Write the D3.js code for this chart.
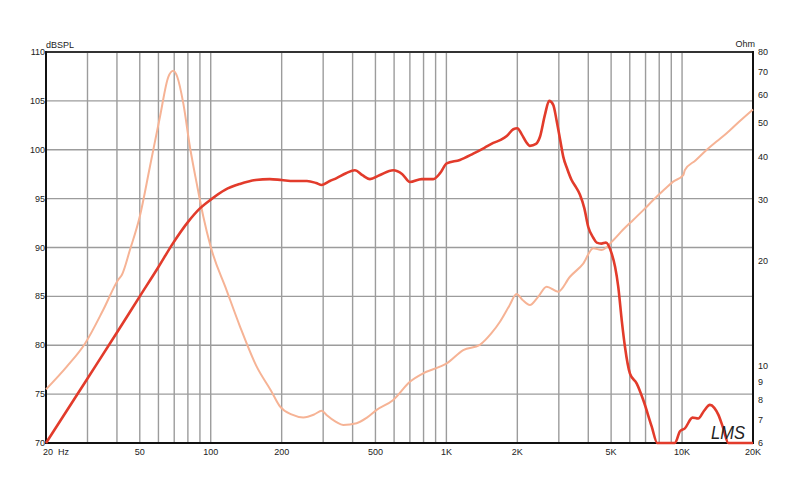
<!DOCTYPE html>
<html><head><meta charset="utf-8">
<script src="https://cdn.jsdelivr.net/npm/d3@7"></script>
<style>body{margin:0;background:#fff}svg{display:block}text{font-family:"Liberation Sans",Arial,sans-serif}</style>
</head><body><svg id="c" width="800" height="484"></svg>
<script>
// SPL response (Hz, dBSPL)
const splFreq = [20,30,40,50,60,69,80,90,100,115,133,155,178,200,225,256,280,296,320,342,375,409,440,474,520,595,650,700,785,880,940,1003,1141,1300,1450,1581,1700,1804,1923,2000,2085,2180,2261,2400,2493,2620,2730,2840,2935,3040,3132,3260,3398,3540,3688,3850,4000,4200,4344,4550,4755,5024,5200,5360,5550,5724,6011,6416,6845,7430,7850,8500,9330,9800,10280,11080,11710,12400,13130,13700,14250,14960,15720,17000,20000];
const splDb   = [70,76.6,81.3,85,88.0,90.4,92.6,94.0,94.9,95.9,96.5,96.9,97.0,96.9,96.8,96.8,96.6,96.4,96.8,97.1,97.6,97.9,97.4,97.0,97.4,97.9,97.5,96.7,97.0,97.0,97.6,98.6,98.95,99.6,100.2,100.7,101.0,101.4,102.1,102.2,101.6,100.8,100.4,100.6,101.3,103.6,105.0,104.6,103.0,101.0,99.3,98.0,96.9,96.2,95.4,94.0,92.1,91.0,90.5,90.4,90.5,89.4,88.0,86.0,82.5,79.85,77.1,76.1,74.4,71.7,70,70,70,71.2,71.5,72.6,72.5,73.3,73.9,73.6,72.9,71.5,70,70,70];
// Impedance (Hz, Ohm)
const impFreq = [20,24.5,29.3,35,40.5,42,45.4,50,55.2,60.9,66.1,69.4,72.1,76.5,81.6,87.2,93,100,116.8,133,156.7,180,197,220,247,275,296,310,340,365,416,460,506,595,700,797,939,1003,1179,1387,1550,1688,1850,1985,2100,2261,2450,2663,2980,3344,3808,4197,4556,5105,5600,6203,6900,7546,8300,9172,10120,10280,11400,12700,14000,15460,17500,20000];
const impOhm  = [8.56,9.95,11.6,14.5,17.7,18.3,21.55,26.9,37.4,52.1,67.9,70.7,67.9,56.9,42.7,33.5,26.9,22.0,16.5,13.0,9.95,8.5,7.63,7.25,7.11,7.25,7.43,7.22,6.9,6.76,6.84,7.1,7.47,7.98,9.0,9.52,9.95,10.17,11.1,11.5,12.4,13.4,14.9,16.1,15.5,14.97,15.8,16.9,16.35,18.05,19.7,21.8,21.55,23.0,24.6,26.3,28.2,30.0,31.9,33.9,35.4,36.6,39.0,41.8,44.2,46.7,50.5,54.7];
const xTicks = [20,50,100,200,500,1000,2000,5000,10000,20000];
const xTickLabels = ["20  Hz","50","100","200","500","1K","2K","5K","10K","20K"];
const xGrid = [30,40,50,60,70,80,90,100,200,300,400,500,600,700,800,900,1000,2000,3000,4000,5000,6000,7000,8000,9000,10000];
const yTicks = [70,75,80,85,90,95,100,105,110];
const ohmTicks = [6,7,8,9,10,20,30,40,50,60,70,80];

const svg = d3.select("#c");
const L=46,R=753,T=52,B=443;
const x = d3.scaleLog().domain([20,20000]).range([L,R]);
const y = d3.scaleLinear().domain([70,110]).range([B,T]);
const yz = d3.scaleLog().domain([6,80]).range([B,T]);

const g = svg.append("g");
// grid
g.selectAll(".vg").data(xGrid).enter().append("line")
 .attr("x1",d=>x(d)).attr("x2",d=>x(d)).attr("y1",T).attr("y2",B)
 .attr("stroke","#9c9c9c").attr("stroke-width",1.4);
g.selectAll(".hg").data(yTicks.slice(1,-1)).enter().append("line")
 .attr("x1",L).attr("x2",R).attr("y1",d=>y(d)).attr("y2",d=>y(d))
 .attr("stroke","#9c9c9c").attr("stroke-width",1.4);

// frame
g.append("line").attr("x1",L).attr("x2",R).attr("y1",T).attr("y2",T).attr("stroke","#333").attr("stroke-width",2);
g.append("line").attr("x1",L).attr("x2",R).attr("y1",B).attr("y2",B).attr("stroke","#111").attr("stroke-width",2);
g.append("line").attr("x1",L).attr("x2",L).attr("y1",T-1).attr("y2",B+1).attr("stroke","#111").attr("stroke-width",2);
g.append("line").attr("x1",R).attr("x2",R).attr("y1",T-1).attr("y2",B+1).attr("stroke","#111").attr("stroke-width",2);

// curves
const line = d3.line().curve(d3.curveMonotoneX);
g.append("path")
 .attr("d",line(impFreq.map((f,i)=>[x(f),yz(impOhm[i])])))
 .attr("fill","none").attr("stroke","#f6b395").attr("stroke-width",2);
g.append("path")
 .attr("d",line(splFreq.map((f,i)=>[x(f),y(splDb[i])])))
 .attr("fill","none").attr("stroke","#e23b2b").attr("stroke-width",2.6);

// axes labels
const fs = 9;
g.selectAll(".yl").data(yTicks).enter().append("text")
 .attr("x",L-1).attr("y",d=>y(d)+3).attr("text-anchor","end")
 .attr("font-size",fs).attr("fill","#222").text(d=>d);
g.selectAll(".zl").data(ohmTicks).enter().append("text")
 .attr("x",R+5).attr("y",d=>yz(d)+3).attr("text-anchor","start")
 .attr("font-size",fs).attr("fill","#222").text(d=>d);
g.selectAll(".xl").data(xTicks).enter().append("text")
 .attr("x",(d,i)=>i===0?x(d)-3:x(d)).attr("y",B+12)
 .attr("text-anchor",(d,i)=>i===0?"start":"middle")
 .attr("font-size",fs).attr("fill","#222").attr("xml:space","preserve")
 .style("white-space","pre").text((d,i)=>xTickLabels[i]);
svg.append("text").attr("x",L).attr("y",T-4).attr("font-size",fs).attr("fill","#222").text("dBSPL");
svg.append("text").attr("x",R+2).attr("y",T-5).attr("text-anchor","end").attr("font-size",fs).attr("fill","#222").text("Ohm");
// logo
svg.append("text").attr("x",711).attr("y",439).attr("font-size",19).attr("font-style","italic")
 .attr("font-family","DejaVu Sans").attr("fill","#222")
 .attr("textLength",34).attr("lengthAdjust","spacingAndGlyphs").text("LMS");
</script></body></html>
